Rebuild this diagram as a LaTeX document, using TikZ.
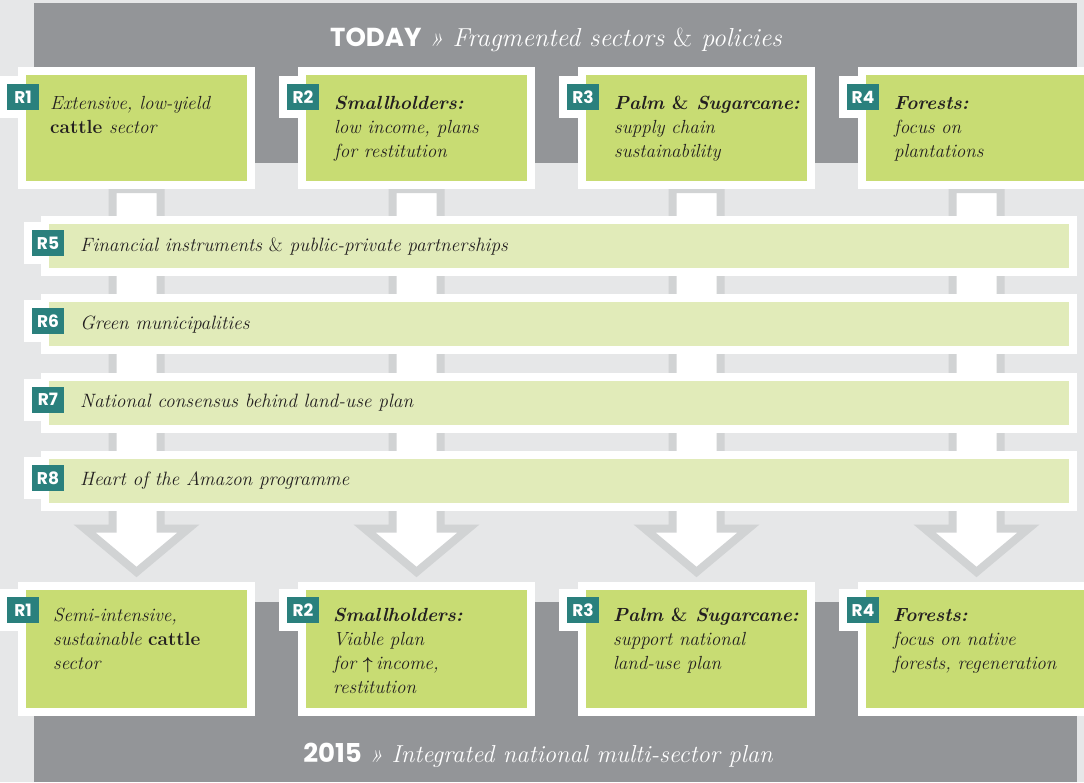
\documentclass[tikz,border=0pt]{standalone}
\usepackage{fontspec}
\newfontfamily\tagfont{Poppins}
\usetikzlibrary{positioning,calc,backgrounds}
\definecolor{pagegray}{HTML}{E6E7E8}
\definecolor{bandgray}{HTML}{939598}
\definecolor{stemgray}{HTML}{D1D3D4}
\definecolor{boxgreen}{HTML}{C8DC73}
\definecolor{bargreen}{HTML}{E1EBB9}
\definecolor{tagteal}{HTML}{2A807D}
\definecolor{inkblack}{HTML}{231F20}
\tikzset{
  topbox/.style={draw=white, line width=8pt, fill=boxgreen, minimum width=229pt, minimum height=114pt, inner sep=0pt},
  lowbox/.style={topbox, minimum height=126pt},
  barbox/.style={draw=white, line width=8pt, fill=bargreen, minimum width=1028pt, minimum height=52pt, inner sep=0pt},
  rtag/.style={fill=tagteal, text=white, minimum width=32pt, minimum height=26pt, inner sep=0pt, font=\tagfont\bfseries\fontsize{17}{17}\selectfont},
  tabbox/.style={fill=white, minimum width=48pt, minimum height=42pt, inner sep=0pt},
  boxtext/.style={anchor=north west, align=left, inner sep=0pt, text=inkblack, font=\fontsize{19}{24}\selectfont\itshape, execute at begin node=\strut},
  bartext/.style={anchor=base west, inner sep=0pt, text=inkblack, font=\fontsize{19.3}{24}\selectfont\itshape},
  titletext/.style={anchor=base, inner sep=0pt, text=white, font=\fontsize{26}{26}\selectfont},
  flowarrow/.style={draw=stemgray, fill=white, line width=8pt, line join=miter},
}

\begin{document}
\begin{tikzpicture}[x=1pt, y=-1pt]
  \useasboundingbox (0,0) rectangle (1084,782);

  % today: four sectors
  \node[topbox] (t1) at (136.5,128) {};
  \node[topbox, right of=t1, node distance=280pt] (t2) {};
  \node[topbox, right of=t2, node distance=280pt] (t3) {};
  \node[topbox, right of=t3, node distance=280pt] (t4) {};
  \node[rtag] (g1) at ($(t1.north west)+(5,30)$) {R1};
  \node[rtag] (g2) at ($(t2.north west)+(5,30)$) {R2};
  \node[rtag] (g3) at ($(t3.north west)+(5,30)$) {R3};
  \node[rtag] (g4) at ($(t4.north west)+(5,30)$) {R4};
  \node[boxtext] (tt1) at ($(t1.north west)+(32,29)$) {Extensive, low-yield\\\textbf{\upshape cattle} sector};
  \node[boxtext] (tt2) at ($(t2.north west)+(36,29)$) {\textbf{Smallholders:}\\low income, plans\\for restitution};
  \node[boxtext] (tt3) at ($(t3.north west)+(36,29)$) {\textbf{Palm {\upshape\&} Sugarcane:}\\supply chain\\sustainability};
  \node[boxtext] (tt4) at ($(t4.north west)+(36,29)$) {\textbf{Forests:}\\focus on\\plantations};

  % 2015: four sectors
  \node[lowbox] (b1) at (136.5,649) {};
  \node[lowbox, right of=b1, node distance=280pt] (b2) {};
  \node[lowbox, right of=b2, node distance=280pt] (b3) {};
  \node[lowbox, right of=b3, node distance=280pt] (b4) {};
  \node[rtag] (h1) at ($(b1.north west)+(5,28)$) {R1};
  \node[rtag] (h2) at ($(b2.north west)+(5,28)$) {R2};
  \node[rtag] (h3) at ($(b3.north west)+(5,28)$) {R3};
  \node[rtag] (h4) at ($(b4.north west)+(5,28)$) {R4};
  \node[boxtext] (bt1) at ($(b1.north west)+(35,26)$) {Semi-intensive,\\sustainable \textbf{\upshape cattle}\\sector};
  \node[boxtext] (bt2) at ($(b2.north west)+(35,26)$) {\textbf{Smallholders:}\\Viable plan\\for {\boldmath$\uparrow$}\,income,\\restitution};
  \node[boxtext] (bt3) at ($(b3.north west)+(35,26)$) {\textbf{Palm {\upshape\&} Sugarcane:}\\support national\\land-use plan};
  \node[boxtext] (bt4) at ($(b4.north west)+(35,26)$) {\textbf{Forests:}\\focus on native\\forests, regeneration};

  % cross-cutting bars
  \node[barbox] (r5) at (559,246) {};
  \node[barbox, below of=r5, node distance=78.3pt] (r6) {};
  \node[barbox, below of=r6, node distance=78.3pt] (r7) {};
  \node[barbox, below of=r7, node distance=78.3pt] (r8) {};
  \node[rtag] (g5) at ($(r5.north west)+(7,27)$) {R5};
  \node[rtag] (g6) at ($(r6.north west)+(7,27)$) {R6};
  \node[rtag] (g7) at ($(r7.north west)+(7,27)$) {R7};
  \node[rtag] (g8) at ($(r8.north west)+(7,27)$) {R8};
  \node[bartext] (rt5) at ($(r5.west)+(39,5)$) {Financial instruments {\upshape\&} public-private partnerships};
  \node[bartext] (rt6) at ($(r6.west)+(39,5)$) {Green municipalities};
  \node[bartext] (rt7) at ($(r7.west)+(39,5)$) {National consensus behind land-use plan};
  \node[bartext] (rt8) at ($(r8.west)+(39,5)$) {Heart of the Amazon programme};

  \node[titletext] (today) at (556,46) {{\tagfont\bfseries TODAY}\ {\itshape » Fragmented sectors {\upshape\&} policies}};
  \node[titletext] (plan) at (538,762) {{\tagfont\bfseries 2015}\ {\fontsize{24.5}{26}\selectfont\itshape » Integrated national multi-sector plan}};

  \begin{pgfonlayer}{background}
    \fill[pagegray] (0,0) rectangle (1084,782);
    \fill[bandgray] (34,3) rectangle (1077,163);
    \fill[bandgray] (34,602) rectangle (1077,782);
    % white tabs behind the badges
    \node[tabbox] (k1) at (g1) {};
    \node[tabbox] (k2) at (g2) {};
    \node[tabbox] (k3) at (g3) {};
    \node[tabbox] (k4) at (g4) {};
    \node[tabbox] (k5) at (g5) {};
    \node[tabbox] (k6) at (g6) {};
    \node[tabbox] (k7) at (g7) {};
    \node[tabbox] (k8) at (g8) {};
    \node[tabbox] (m1) at (h1) {};
    \node[tabbox] (m2) at (h2) {};
    \node[tabbox] (m3) at (h3) {};
    \node[tabbox] (m4) at (h4) {};
    % big arrows today -> 2015
    \filldraw[flowarrow] ($(t1.south)+(-24,0)$) |- ($(b1.north)+(-52,-53.5)$) -- ($(b1.north)+(0,-10)$) -- ($(b1.north)+(52,-53.5)$) -| ($(t1.south)+(24,0)$) -- cycle;
    \filldraw[flowarrow] ($(t2.south)+(-24,0)$) |- ($(b2.north)+(-52,-53.5)$) -- ($(b2.north)+(0,-10)$) -- ($(b2.north)+(52,-53.5)$) -| ($(t2.south)+(24,0)$) -- cycle;
    \filldraw[flowarrow] ($(t3.south)+(-24,0)$) |- ($(b3.north)+(-52,-53.5)$) -- ($(b3.north)+(0,-10)$) -- ($(b3.north)+(52,-53.5)$) -| ($(t3.south)+(24,0)$) -- cycle;
    \filldraw[flowarrow] ($(t4.south)+(-24,0)$) |- ($(b4.north)+(-52,-53.5)$) -- ($(b4.north)+(0,-10)$) -- ($(b4.north)+(52,-53.5)$) -| ($(t4.south)+(24,0)$) -- cycle;
  \end{pgfonlayer}
\end{tikzpicture}
\end{document}
